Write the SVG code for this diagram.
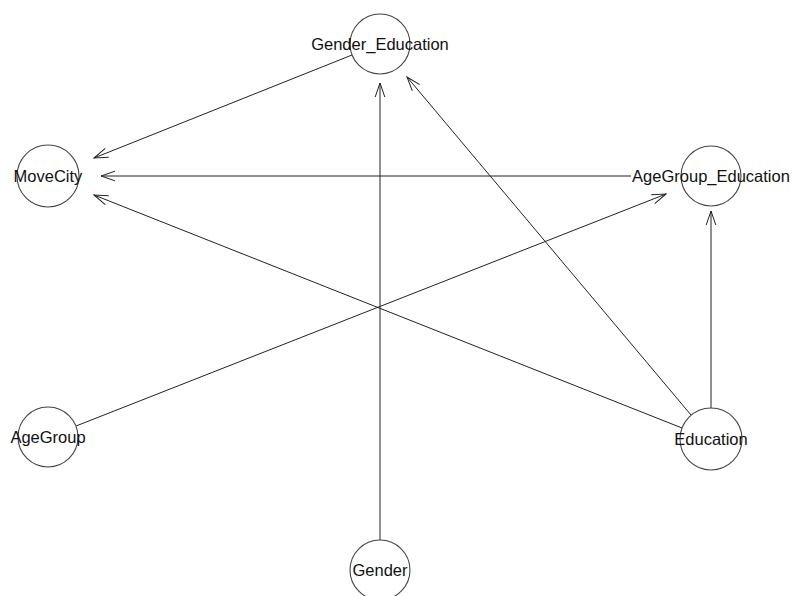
<svg xmlns="http://www.w3.org/2000/svg" width="793" height="596" viewBox="0 0 793 596">
<style>
.node circle{fill:none;stroke:#444;stroke-width:1.1}
.node text{font-family:"Liberation Sans",Arial,sans-serif;font-size:16.5px;fill:#111;text-anchor:middle}
.edges line{stroke:#222;stroke-width:1;marker-end:url(#arr)}
</style>
<defs>
<marker id="arr" markerUnits="userSpaceOnUse" markerWidth="18" markerHeight="12" refX="15" refY="6" orient="auto" overflow="visible">
<path d="M1,1.2 L15,6 L1,10.8" fill="none" stroke="#222" stroke-width="1"/>
</marker>
</defs>
<rect width="793" height="596" fill="#fff"/>
<g id="edges" class="edges">
<line x1="352" y1="55" x2="94" y2="158"/>
<line x1="631" y1="176" x2="101" y2="176"/>
<line x1="682" y1="428" x2="94" y2="195"/>
<line x1="691" y1="415" x2="407" y2="77"/>
<line x1="711" y1="408" x2="711" y2="211"/>
<line x1="380" y1="540" x2="380" y2="83"/>
<line x1="76" y1="426" x2="666" y2="194"/>
</g>
<g id="Gender_Education" class="node"><circle cx="380" cy="44" r="30"/><text x="380" y="50">Gender_Education</text></g>
<g id="MoveCity" class="node"><circle cx="48" cy="176" r="31"/><text x="48" y="182">MoveCity</text></g>
<g id="AgeGroup_Education" class="node"><circle cx="711" cy="176" r="30"/><text x="711" y="182">AgeGroup_Education</text></g>
<g id="AgeGroup" class="node"><circle cx="48" cy="437" r="30"/><text x="48" y="443">AgeGroup</text></g>
<g id="Education" class="node"><circle cx="711" cy="439" r="31"/><text x="711" y="445">Education</text></g>
<g id="Gender" class="node"><circle cx="380" cy="570" r="30"/><text x="380" y="576">Gender</text></g>
</svg>
